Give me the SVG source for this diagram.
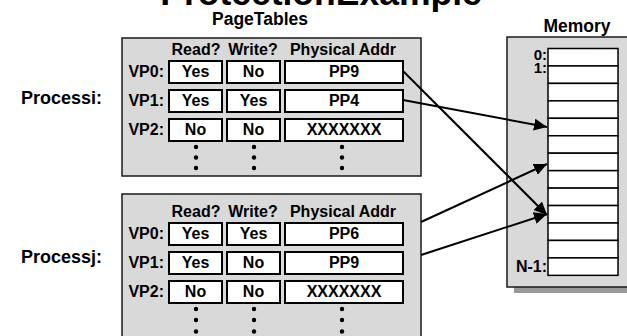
<svg xmlns="http://www.w3.org/2000/svg" width="627" height="336" viewBox="0 0 627 336">
<style>
text{font-family:"Liberation Sans",Arial,sans-serif;font-weight:bold;fill:#000}
.panel{fill:#d9d9d9;stroke:#1a1a1a;stroke-width:1.5}
.cell{fill:#fff;stroke:#000;stroke-width:2}
.mcell{fill:#fff;stroke:#000;stroke-width:1.5}
.t{font-size:16px;text-anchor:middle}
.vp{font-size:16px;text-anchor:end}
.ml{font-size:15px;text-anchor:end}
.proc{font-size:18px}
.dot{fill:#000}
.conn{stroke:#000;stroke-width:2;fill:none;marker-end:url(#ah)}
</style>
<defs>
<marker id="ah" markerUnits="userSpaceOnUse" markerWidth="14" markerHeight="12" refX="13" refY="6" orient="auto">
<path d="M0,0 L13,6 L0,12 z" fill="#000"/>
</marker>
</defs>
<text x="321" y="5" style="font-size:35.5px" text-anchor="middle">ProtectionExample</text>
<text x="260" y="25" style="font-size:17.5px" text-anchor="middle">PageTables</text>
<text x="577" y="32" style="font-size:17.5px" text-anchor="middle">Memory</text>

<g id="memory">
<rect x="514" y="43" width="130" height="250" fill="#999"/>
<rect class="panel" x="507" y="37" width="130" height="250"/>
<rect class="mcell" x="548" y="48.5" width="70" height="17.45"/>
<rect class="mcell" x="548" y="65.95" width="70" height="17.45"/>
<rect class="mcell" x="548" y="83.4" width="70" height="17.45"/>
<rect class="mcell" x="548" y="100.85" width="70" height="17.45"/>
<rect class="mcell" x="548" y="118.3" width="70" height="17.45"/>
<rect class="mcell" x="548" y="135.75" width="70" height="17.45"/>
<rect class="mcell" x="548" y="153.2" width="70" height="17.45"/>
<rect class="mcell" x="548" y="170.65" width="70" height="17.45"/>
<rect class="mcell" x="548" y="188.1" width="70" height="17.45"/>
<rect class="mcell" x="548" y="205.55" width="70" height="17.45"/>
<rect class="mcell" x="548" y="223" width="70" height="17.45"/>
<rect class="mcell" x="548" y="240.45" width="70" height="17.45"/>
<rect class="mcell" x="548" y="257.9" width="70" height="17.45"/>
<text class="ml" x="547" y="60">0:</text>
<text class="ml" x="547" y="73">1:</text>
<text class="vp" x="547" y="272">N-1:</text>
</g>

<g id="process-i">
<text class="proc" x="21" y="104">Processi:</text>
<rect class="panel" x="122" y="38" width="299" height="138"/>
<text class="t" x="196" y="55">Read?</text>
<text class="t" x="253" y="55">Write?</text>
<text class="t" x="343" y="55">Physical Addr</text>
<text class="vp" x="164" y="77">VP0:</text>
<rect class="cell" x="169" y="61" width="53" height="22"/><text class="t" x="195.5" y="77">Yes</text>
<rect class="cell" x="227" y="61" width="53" height="22"/><text class="t" x="253.5" y="77">No</text>
<rect class="cell" x="285" y="61" width="118" height="22"/><text class="t" x="344" y="77">PP9</text>
<text class="vp" x="164" y="106">VP1:</text>
<rect class="cell" x="169" y="90" width="53" height="22"/><text class="t" x="195.5" y="106">Yes</text>
<rect class="cell" x="227" y="90" width="53" height="22"/><text class="t" x="253.5" y="106">Yes</text>
<rect class="cell" x="285" y="90" width="118" height="22"/><text class="t" x="344" y="106">PP4</text>
<text class="vp" x="164" y="135">VP2:</text>
<rect class="cell" x="169" y="119" width="53" height="22"/><text class="t" x="195.5" y="135">No</text>
<rect class="cell" x="227" y="119" width="53" height="22"/><text class="t" x="253.5" y="135">No</text>
<rect class="cell" x="285" y="119" width="118" height="22"/><text class="t" x="344" y="135">XXXXXXX</text>
<circle class="dot" cx="196" cy="147" r="2.2"/><circle class="dot" cx="196" cy="157.5" r="2.2"/><circle class="dot" cx="196" cy="168" r="2.2"/>
<circle class="dot" cx="254" cy="147" r="2.2"/><circle class="dot" cx="254" cy="157.5" r="2.2"/><circle class="dot" cx="254" cy="168" r="2.2"/>
<circle class="dot" cx="342" cy="147" r="2.2"/><circle class="dot" cx="342" cy="157.5" r="2.2"/><circle class="dot" cx="342" cy="168" r="2.2"/>
</g>

<g id="process-j">
<text class="proc" x="21" y="263">Processj:</text>
<rect class="panel" x="122" y="194" width="299" height="150"/>
<text class="t" x="196" y="217">Read?</text>
<text class="t" x="253" y="217">Write?</text>
<text class="t" x="343" y="217">Physical Addr</text>
<text class="vp" x="164" y="239">VP0:</text>
<rect class="cell" x="169" y="223" width="53" height="22"/><text class="t" x="195.5" y="239">Yes</text>
<rect class="cell" x="227" y="223" width="53" height="22"/><text class="t" x="253.5" y="239">Yes</text>
<rect class="cell" x="285" y="223" width="118" height="22"/><text class="t" x="344" y="239">PP6</text>
<text class="vp" x="164" y="268">VP1:</text>
<rect class="cell" x="169" y="252" width="53" height="22"/><text class="t" x="195.5" y="268">Yes</text>
<rect class="cell" x="227" y="252" width="53" height="22"/><text class="t" x="253.5" y="268">No</text>
<rect class="cell" x="285" y="252" width="118" height="22"/><text class="t" x="344" y="268">PP9</text>
<text class="vp" x="164" y="297">VP2:</text>
<rect class="cell" x="169" y="281" width="53" height="22"/><text class="t" x="195.5" y="297">No</text>
<rect class="cell" x="227" y="281" width="53" height="22"/><text class="t" x="253.5" y="297">No</text>
<rect class="cell" x="285" y="281" width="118" height="22"/><text class="t" x="344" y="297">XXXXXXX</text>
<circle class="dot" cx="196" cy="309" r="2.2"/><circle class="dot" cx="196" cy="320" r="2.2"/><circle class="dot" cx="196" cy="331.5" r="2.2"/>
<circle class="dot" cx="254" cy="309" r="2.2"/><circle class="dot" cx="254" cy="320" r="2.2"/><circle class="dot" cx="254" cy="331.5" r="2.2"/>
<circle class="dot" cx="342" cy="309" r="2.2"/><circle class="dot" cx="342" cy="320" r="2.2"/><circle class="dot" cx="342" cy="331.5" r="2.2"/>
</g>

<g id="connectors">
<line class="conn" x1="403" y1="71" x2="547" y2="215"/>
<line class="conn" x1="403" y1="100" x2="547" y2="127"/>
<line class="conn" x1="421" y1="222" x2="547" y2="164"/>
<line class="conn" x1="421" y1="255" x2="547" y2="214"/>
</g>
</svg>
